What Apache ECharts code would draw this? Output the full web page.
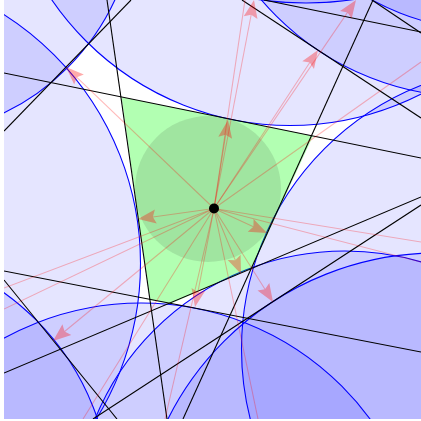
<!DOCTYPE html>
<html><head><meta charset="utf-8">
<style>html,body{margin:0;padding:0;background:#fff}#c{width:421px;height:421px}</style>
<script src="https://cdn.jsdelivr.net/npm/echarts@6/dist/echarts.min.js"></script>
</head><body><div id="c"></div>
<script>
const disks = [[290,-163,288.5],[-154.5,263.5,295],[525,349,283.5],[141,587,284],[-100,-100,237],[472,-180,277],[306,-322,325],[500,-240,272],[437,554,301],[345,521,270],[-145,501,256]];
const blackLines = [[4,73,421,158],[107,0,167,419],[4,131,131,0],[242,0,421,118],[264,0,421,32],[373,0,183,419],[4,373,421,197],[4,280,117,419],[93,419,421,205],[4,271,421,352],[372,0,421,33]];
const cell = [[121.5,97],[313,136],[252,268],[170,304],[150,300]];
const inscribed = [208,189,73];
const site = [214,208.5];
const rayEnds = [[421,62],[421,242],[421,262],[4,288],[4,309],[83,419],[165,419],[258,419],[245,0]];
const arrowTips = [[228,120],[254,0],[318,50],[356,0],[66,67],[138,219],[53,341],[241,274],[267,233],[273,302],[195,307]];

const chart = echarts.init(document.getElementById('c'), null, {renderer:'canvas'});
const RED = 'rgba(255,0,0,0.27)';
function segs(list){return list.map(p=>[site[0],site[1],p[0],p[1]]);}
function custom(data, z, renderItem){
  return {type:'custom', coordinateSystem:'cartesian2d', clip:true, silent:true, z, animation:false, data, renderItem, encode:{x:0,y:1}};
}
const lineItem = (color,width)=>(params,api)=>{
  const a=api.coord([api.value(0),api.value(1)]), b=api.coord([api.value(2),api.value(3)]);
  return {type:'line',shape:{x1:a[0],y1:a[1],x2:b[0],y2:b[1]},style:{stroke:color,lineWidth:width,fill:null}};
};
chart.setOption({
  animation:false,
  grid:{left:4,top:0,width:417,height:419,containLabel:false},
  xAxis:{type:'value',min:4,max:421,show:false},
  yAxis:{type:'value',min:0,max:419,inverse:true,show:false},
  series:[
    custom(disks,1,(params,api)=>{
      const c=api.coord([api.value(0),api.value(1)]), r=api.size([api.value(2),0])[0];
      return {type:'circle',shape:{cx:c[0],cy:c[1],r},style:{fill:'rgba(0,0,255,0.1)',stroke:'#0000ff',lineWidth:1.1}};
    }),
    custom([0],2,(params,api)=>({type:'polygon',shape:{points:cell.map(p=>api.coord(p))},style:{fill:'rgba(0,255,0,0.3)',stroke:'none'}})),
    custom([inscribed],3,(params,api)=>{
      const c=api.coord([api.value(0),api.value(1)]), r=api.size([api.value(2),0])[0];
      return {type:'circle',shape:{cx:c[0],cy:c[1],r},style:{fill:'rgba(0,0,0,0.1)',stroke:'none'}};
    }),
    custom(blackLines,4,lineItem('#000',1.1)),
    custom(segs(rayEnds),5,lineItem(RED,1.1)),
    custom(segs(arrowTips),5,(params,api)=>{
      const a=api.coord([api.value(0),api.value(1)]), b=api.coord([api.value(2),api.value(3)]);
      const dx=b[0]-a[0],dy=b[1]-a[1],L=Math.hypot(dx,dy),ux=dx/L,uy=dy/L,nx=-uy,ny=ux;
      const len=18,hw=7,notch=15;
      const pts=[b,
        [b[0]-ux*len+nx*hw,b[1]-uy*len+ny*hw],
        [b[0]-ux*notch,b[1]-uy*notch],
        [b[0]-ux*len-nx*hw,b[1]-uy*len-ny*hw]];
      return {type:'group',children:[
        {type:'line',shape:{x1:a[0],y1:a[1],x2:b[0]-ux*notch,y2:b[1]-uy*notch},style:{stroke:RED,lineWidth:1.1,fill:null}},
        {type:'polygon',shape:{points:pts},style:{fill:'rgba(255,0,0,0.33)',stroke:'none'}}
      ]};
    }),
    custom([site],6,(params,api)=>{
      const c=api.coord([api.value(0),api.value(1)]);
      return {type:'circle',shape:{cx:c[0],cy:c[1],r:5},style:{fill:'#000',stroke:'none'}};
    })
  ]
});
</script></body></html>
